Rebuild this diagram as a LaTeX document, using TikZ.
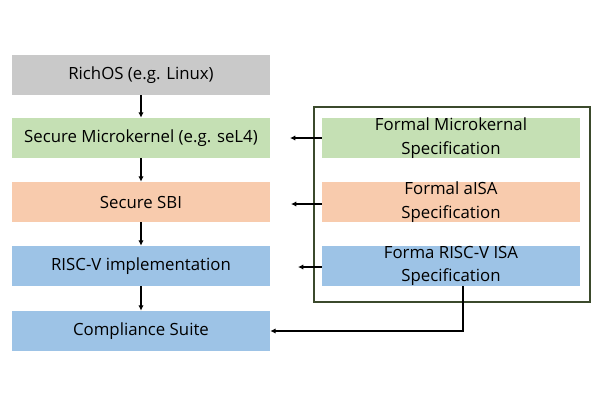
\documentclass[tikz,border=0pt]{standalone}
\usepackage{fontspec}
\setmainfont{Open Sans}
\usetikzlibrary{arrows.meta}
\definecolor{cgray}{HTML}{C9C9C9}
\definecolor{cgreen}{HTML}{C5E0B4}
\definecolor{corange}{HTML}{F8CBAD}
\definecolor{cblue}{HTML}{9DC3E6}
\definecolor{cframe}{HTML}{3B4A2C}
\begin{document}
\begin{tikzpicture}[x=0.75pt,y=-0.75pt,
  box/.style={minimum width=258*0.75pt,minimum height=40*0.75pt,inner sep=0pt,align=center,font=\fontsize{12.6}{17.5}\selectfont},
  arr/.style={-{Latex[length=4pt,width=4pt]},line width=0.8pt}]
\useasboundingbox (0,0) rectangle (600,400);
\node[box,fill=cgray] (rich) at (141,75) {RichOS (e.g. Linux)};
\node[box,fill=cgreen] (mk) at (141,138) {Secure Microkernel (e.g. seL4)};
\node[box,fill=corange] (sbi) at (141,202) {Secure SBI};
\node[box,fill=cblue] (rv) at (141,266) {RISC-V implementation};
\node[box,fill=cblue] (cs) at (141,331) {Compliance Suite};
\node[draw=cframe,line width=1pt,minimum width=276*0.75pt,minimum height=195*0.75pt,inner sep=0pt] (frame) at (452,204.5) {};
\node[box,fill=cgreen] (fmk) at (451,138) {Formal Microkernal\\Specification};
\node[box,fill=corange] (fsbi) at (451,202) {Formal aISA\\Specification};
\node[box,fill=cblue] (frv) at (451,266) {Forma RISC-V ISA\\Specification};
\draw[arr] (rich) -- (mk);
\draw[arr] (mk) -- (sbi);
\draw[arr] (sbi) -- (rv);
\draw[arr] (rv) -- (cs);
\coordinate (a1) at (290,138);
\coordinate (a2) at (291,204);
\coordinate (a3) at (298,267);
\draw[arr] (fmk.west) -- (a1);
\draw[arr] (fsbi.west |- a2) -- (a2);
\draw[arr] (frv.west |- a3) -- (a3);
\coordinate (c1) at (463,331);
\draw[arr] (frv.south -| c1) -- (c1) -- (cs.east);
\end{tikzpicture}
\end{document}
